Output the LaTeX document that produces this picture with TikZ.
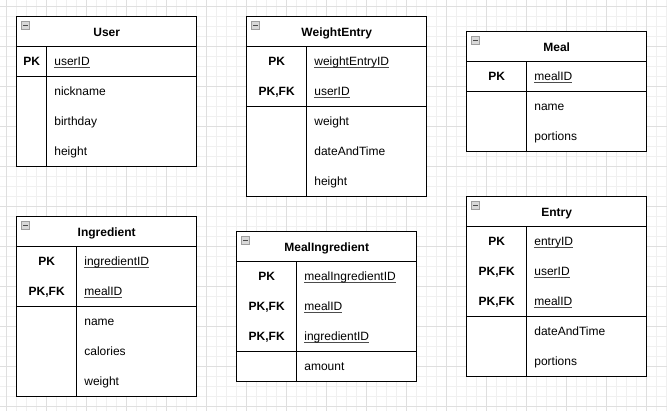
\documentclass[tikz,border=0pt]{standalone}
\usepackage{fontspec}
\setmainfont{Liberation Sans}
\usepackage{tikz}
\usetikzlibrary{positioning}
\newcommand\keyul[1]{\setbox0\hbox{#1}\rlap{\color{black!70}\rule[-1.8pt]{\wd0}{0.9pt}}\box0}
\tikzset{
    tbl/.style = {rectangle, draw=black, fill=white, line width=1pt, minimum width=180pt, inner sep=0pt, outer sep=0pt},
    hdr/.style = {tbl, anchor=north west, minimum height=30pt, text height=9pt, text depth=0pt, font=\fontsize{12}{14}\selectfont\bfseries},
    keylbl/.style = {anchor=base, inner sep=0pt, font=\fontsize{12}{14}\selectfont\bfseries},
    fld/.style = {anchor=base west, inner sep=0pt, font=\fontsize{12}{14}\selectfont},
    icon/.style = {rectangle, anchor=north west, draw=gray!75, fill=gray!30, line width=0.6pt, minimum size=8pt, inner sep=0pt,
        path picture={\draw[black!70, line width=1pt] ([xshift=-2.5pt]path picture bounding box.center) -- ([xshift=2.5pt]path picture bounding box.center);}},
    gridminor/.style = {draw=gray!12, line width=0.6pt},
    gridmajor/.style = {draw=gray!25, line width=0.6pt},
}

\begin{document}
\begin{tikzpicture}[x=1pt, y=-1pt]
  \useasboundingbox (0,0) rectangle (667,411);
  % background grid
  \begin{scope}
    \clip (0,0) rectangle (667,411);
    \draw[gridminor, step=10pt, xshift=6.7pt, yshift=-6.3pt] (-20,430) grid (680,-20);
    \draw[gridmajor, step=40pt, xshift=6.7pt, yshift=-6.3pt] (-40,440) grid (680,-40);
  \end{scope}

  % User
  \node[hdr] (user) at (16.7,16.7) {User};
  \node[tbl, minimum height=30pt, below=0pt of user] (user-keys) {};
  \node[tbl, minimum height=90pt, below=0pt of user-keys] (user-attrs) {};
  \node[icon] (user-icon) at ([xshift=4.5pt,yshift=-4.5pt]user.north west) {};
  \draw[line width=1pt] ([xshift=30pt]user-keys.north west) -- ([xshift=30pt]user-attrs.south west);
  \node[keylbl] (user-pk) at ([xshift=15pt,yshift=-19.3pt]user-keys.north west) {PK};
  \node[fld] (user-id) at ([xshift=37.5pt,yshift=-19.3pt]user-keys.north west) {\keyul{userID}};
  \node[fld] (user-nick) at ([xshift=37.5pt,yshift=-19.3pt]user-attrs.north west) {nickname};
  \node[fld] (user-bday) at ([xshift=37.5pt,yshift=-49.3pt]user-attrs.north west) {birthday};
  \node[fld] (user-height) at ([xshift=37.5pt,yshift=-79.3pt]user-attrs.north west) {height};

  % WeightEntry
  \node[hdr] (weight) at (246.7,16.7) {WeightEntry};
  \node[tbl, minimum height=60pt, below=0pt of weight] (weight-keys) {};
  \node[tbl, minimum height=90pt, below=0pt of weight-keys] (weight-attrs) {};
  \node[icon] (weight-icon) at ([xshift=4.5pt,yshift=-4.5pt]weight.north west) {};
  \draw[line width=1pt] ([xshift=60pt]weight-keys.north west) -- ([xshift=60pt]weight-attrs.south west);
  \node[keylbl] (weight-pk) at ([xshift=30pt,yshift=-19.3pt]weight-keys.north west) {PK};
  \node[keylbl] (weight-pkfk) at ([xshift=30pt,yshift=-49.3pt]weight-keys.north west) {PK,FK};
  \node[fld] (weight-id) at ([xshift=67.5pt,yshift=-19.3pt]weight-keys.north west) {\keyul{weightEntryID}};
  \node[fld] (weight-user) at ([xshift=67.5pt,yshift=-49.3pt]weight-keys.north west) {\keyul{userID}};
  \node[fld] (weight-weight) at ([xshift=67.5pt,yshift=-19.3pt]weight-attrs.north west) {weight};
  \node[fld] (weight-date) at ([xshift=67.5pt,yshift=-49.3pt]weight-attrs.north west) {dateAndTime};
  \node[fld] (weight-height) at ([xshift=67.5pt,yshift=-79.3pt]weight-attrs.north west) {height};

  % Meal
  \node[hdr] (meal) at (466.7,31.7) {Meal};
  \node[tbl, minimum height=30pt, below=0pt of meal] (meal-keys) {};
  \node[tbl, minimum height=60pt, below=0pt of meal-keys] (meal-attrs) {};
  \node[icon] (meal-icon) at ([xshift=4.5pt,yshift=-4.5pt]meal.north west) {};
  \draw[line width=1pt] ([xshift=60pt]meal-keys.north west) -- ([xshift=60pt]meal-attrs.south west);
  \node[keylbl] (meal-pk) at ([xshift=30pt,yshift=-19.3pt]meal-keys.north west) {PK};
  \node[fld] (meal-id) at ([xshift=67.5pt,yshift=-19.3pt]meal-keys.north west) {\keyul{mealID}};
  \node[fld] (meal-name) at ([xshift=67.5pt,yshift=-19.3pt]meal-attrs.north west) {name};
  \node[fld] (meal-portions) at ([xshift=67.5pt,yshift=-49.3pt]meal-attrs.north west) {portions};

  % Ingredient
  \node[hdr] (ingr) at (16.7,216.7) {Ingredient};
  \node[tbl, minimum height=60pt, below=0pt of ingr] (ingr-keys) {};
  \node[tbl, minimum height=90pt, below=0pt of ingr-keys] (ingr-attrs) {};
  \node[icon] (ingr-icon) at ([xshift=4.5pt,yshift=-4.5pt]ingr.north west) {};
  \draw[line width=1pt] ([xshift=60pt]ingr-keys.north west) -- ([xshift=60pt]ingr-attrs.south west);
  \node[keylbl] (ingr-pk) at ([xshift=30pt,yshift=-19.3pt]ingr-keys.north west) {PK};
  \node[keylbl] (ingr-pkfk) at ([xshift=30pt,yshift=-49.3pt]ingr-keys.north west) {PK,FK};
  \node[fld] (ingr-id) at ([xshift=67.5pt,yshift=-19.3pt]ingr-keys.north west) {\keyul{ingredientID}};
  \node[fld] (ingr-meal) at ([xshift=67.5pt,yshift=-49.3pt]ingr-keys.north west) {\keyul{mealID}};
  \node[fld] (ingr-name) at ([xshift=67.5pt,yshift=-19.3pt]ingr-attrs.north west) {name};
  \node[fld] (ingr-cal) at ([xshift=67.5pt,yshift=-49.3pt]ingr-attrs.north west) {calories};
  \node[fld] (ingr-weight) at ([xshift=67.5pt,yshift=-79.3pt]ingr-attrs.north west) {weight};

  % MealIngredient
  \node[hdr] (mealingr) at (236.7,231.7) {MealIngredient};
  \node[tbl, minimum height=90pt, below=0pt of mealingr] (mealingr-keys) {};
  \node[tbl, minimum height=30pt, below=0pt of mealingr-keys] (mealingr-attrs) {};
  \node[icon] (mealingr-icon) at ([xshift=4.5pt,yshift=-4.5pt]mealingr.north west) {};
  \draw[line width=1pt] ([xshift=60pt]mealingr-keys.north west) -- ([xshift=60pt]mealingr-attrs.south west);
  \node[keylbl] (mealingr-pk) at ([xshift=30pt,yshift=-19.3pt]mealingr-keys.north west) {PK};
  \node[keylbl] (mealingr-pkfk1) at ([xshift=30pt,yshift=-49.3pt]mealingr-keys.north west) {PK,FK};
  \node[keylbl] (mealingr-pkfk2) at ([xshift=30pt,yshift=-79.3pt]mealingr-keys.north west) {PK,FK};
  \node[fld] (mealingr-id) at ([xshift=67.5pt,yshift=-19.3pt]mealingr-keys.north west) {\keyul{mealIngredientID}};
  \node[fld] (mealingr-meal) at ([xshift=67.5pt,yshift=-49.3pt]mealingr-keys.north west) {\keyul{mealID}};
  \node[fld] (mealingr-ingr) at ([xshift=67.5pt,yshift=-79.3pt]mealingr-keys.north west) {\keyul{ingredientID}};
  \node[fld] (mealingr-amount) at ([xshift=67.5pt,yshift=-19.3pt]mealingr-attrs.north west) {amount};

  % Entry
  \node[hdr] (entry) at (466.7,196.7) {Entry};
  \node[tbl, minimum height=90pt, below=0pt of entry] (entry-keys) {};
  \node[tbl, minimum height=60pt, below=0pt of entry-keys] (entry-attrs) {};
  \node[icon] (entry-icon) at ([xshift=4.5pt,yshift=-4.5pt]entry.north west) {};
  \draw[line width=1pt] ([xshift=60pt]entry-keys.north west) -- ([xshift=60pt]entry-attrs.south west);
  \node[keylbl] (entry-pk) at ([xshift=30pt,yshift=-19.3pt]entry-keys.north west) {PK};
  \node[keylbl] (entry-pkfk1) at ([xshift=30pt,yshift=-49.3pt]entry-keys.north west) {PK,FK};
  \node[keylbl] (entry-pkfk2) at ([xshift=30pt,yshift=-79.3pt]entry-keys.north west) {PK,FK};
  \node[fld] (entry-id) at ([xshift=67.5pt,yshift=-19.3pt]entry-keys.north west) {\keyul{entryID}};
  \node[fld] (entry-user) at ([xshift=67.5pt,yshift=-49.3pt]entry-keys.north west) {\keyul{userID}};
  \node[fld] (entry-meal) at ([xshift=67.5pt,yshift=-79.3pt]entry-keys.north west) {\keyul{mealID}};
  \node[fld] (entry-date) at ([xshift=67.5pt,yshift=-19.3pt]entry-attrs.north west) {dateAndTime};
  \node[fld] (entry-portions) at ([xshift=67.5pt,yshift=-49.3pt]entry-attrs.north west) {portions};
\end{tikzpicture}
\end{document}
